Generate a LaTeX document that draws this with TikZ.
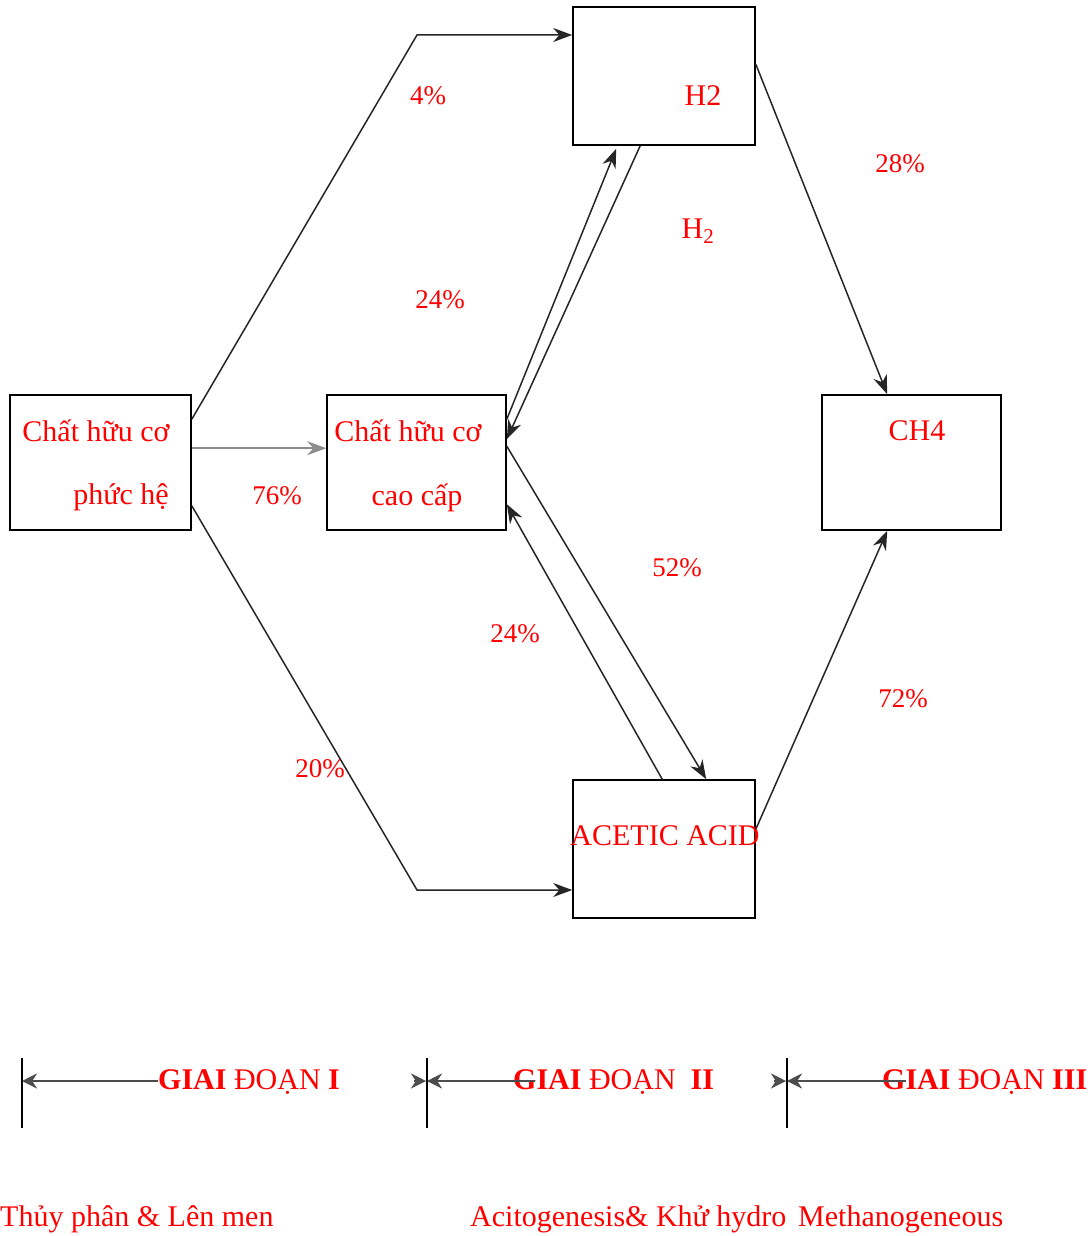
\documentclass[tikz,border=0pt]{standalone}
\usepackage{fontspec}
\setmainfont{Liberation Serif}
\usetikzlibrary{arrows.meta}
\begin{document}
\begin{tikzpicture}[x=1pt,y=-1pt,
  box/.style={draw=black,line width=1.6pt,minimum width=#1,minimum height=135pt,inner sep=0pt},
  txt/.style={text=red,inner sep=0pt,font=\fontsize{30}{32}\selectfont},
  pct/.style={text=red,inner sep=0pt,font=\fontsize{27}{29}\selectfont},
  flow/.style={draw=black!85,line width=1.5pt,-{Stealth[length=19pt,width=14pt]}},
  stagearr/.style={draw=black!70,line width=2.6pt,-{Stealth[length=15pt,width=15pt]}},
  divider/.style={draw=black,line width=1.4pt}]
\useasboundingbox (0,0) rectangle (1089,1236);
\fill[white] (0,0) rectangle (1089,1236);

% boxes
\node[box=181pt] (b1) at (100.5,462.5) {};
\node[box=179pt] (b2) at (416.5,462.5) {};
\node[box=182pt,minimum height=138pt] (h2) at (664,76) {};
\node[box=179pt] (ch4) at (911.5,462.5) {};
\node[box=182pt,minimum height=138pt] (ac) at (664,849) {};

% box texts
\node[txt] (b1a) at (96,431) {Chất hữu cơ};
\node[txt] (b1b) at (121,497) {phức hệ};
\node[txt] (b2a) at (408,431) {Chất hữu cơ};
\node[txt] (b2b) at (417,498) {cao cấp};
\node[txt] (h2t) at (703,96) {H2};
\node[txt] (ch4t) at (917,431) {CH4};
\node[txt] (act) at (665,836) {ACETIC ACID};

% bend points
\coordinate (k1) at (417,35);
\coordinate (k2) at (417,890);

% connectors
\draw[flow] ([yshift=-25pt]b1.north east) -- (k1) -- (k1 -| h2.west);
\draw[flow,draw=black!45] ([yshift=-54pt]b1.north east) -- ([yshift=-54pt]b2.north west);
\draw[flow] ([yshift=25pt]b1.south east) -- (k2) -- (k2 -| ac.west);
\draw[flow] ([yshift=-25pt]b2.north east) -- ([xshift=44pt,yshift=-3pt]h2.south west);
\draw[flow] ([xshift=68pt]h2.south west) -- ([yshift=-45pt]b2.north east);
\draw[flow] ([yshift=-52pt]b2.north east) -- ([xshift=134pt]ac.north west);
\draw[flow] ([xshift=90pt]ac.north west) -- ([yshift=-110pt]b2.north east);
\draw[flow] ([yshift=-58pt]h2.north east) -- ([xshift=66pt]ch4.north west);
\draw[flow] ([yshift=-50pt]ac.north east) -- ([xshift=66pt]ch4.south west);

% flow percentages
\node[pct] (p4) at (428,96) {4\%};
\node[pct] (p28) at (900,164) {28\%};
\node[txt] (h2l) at (698,231) {H\textsubscript{2}};
\node[pct] (p24a) at (440,300) {24\%};
\node[pct] (p76) at (277,496) {76\%};
\node[pct] (p52) at (677,568) {52\%};
\node[pct] (p24b) at (515,634) {24\%};
\node[pct] (p72) at (903,699) {72\%};
\node[pct] (p20) at (320,769) {20\%};

% stage dividers
\foreach \n/\x in {v1/22,v2/427,v3/787}{
  \coordinate (\n t) at (\x,1058);
  \coordinate (\n b) at (\x,1128);
  \coordinate (\n m) at (\x,1081);
  \draw[divider] (\n t) -- (\n b);
}

% stage titles
\node[txt,anchor=west] (g1) at (158,1082) {\textbf{GIAI} ĐOẠN \textbf{I}};
\node[txt,anchor=west] (g2) at (513,1082) {\textbf{GIAI} ĐOẠN\ \ \textbf{II}};
\node[txt,anchor=west] (g3) at (882,1082) {\textbf{GIAI} ĐOẠN \textbf{III}};

\draw[stagearr] (g1.west |- v1m) -- (v1m);
\draw[stagearr] ([xshift=22pt]g2.west |- v2m) -- (v2m);
\draw[stagearr] ([xshift=24pt]g3.west |- v3m) -- (v3m);
\draw[stagearr] ([xshift=-13pt]v2m) -- ([xshift=-1pt]v2m);
\draw[stagearr] ([xshift=-13pt]v3m) -- ([xshift=-1pt]v3m);

% stage descriptions
\node[txt,anchor=west] (d1) at (0,1219) {Thủy phân \& Lên men};
\node[txt,anchor=west] (d2) at (470,1219) {Acitogenesis\& Khử hydro};
\node[txt,anchor=west] (d3) at (798,1219) {Methanogeneous};
\end{tikzpicture}
\end{document}
